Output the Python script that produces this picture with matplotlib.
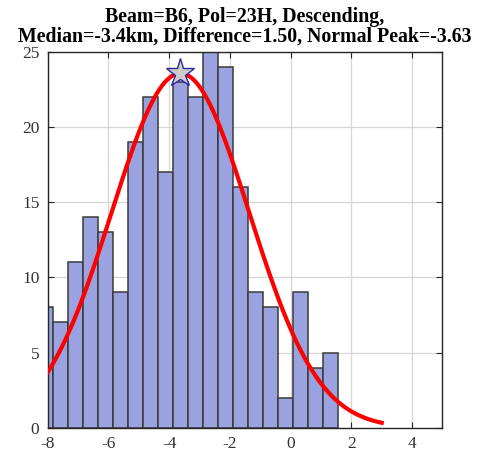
import numpy as np
import matplotlib
matplotlib.use("Agg")
import matplotlib.pyplot as plt

# Data
counts = [8, 7, 11, 14, 13, 9, 19, 22, 17, 23, 22, 25, 24, 16, 9, 8, 2, 9, 4, 5]
first_edge = -8.308
bin_width = 0.4933
fit_mu = -3.63
fit_sigma = 2.27
fit_amp = 23.56
fit_range = (-8.0, 3.0)
xticks = [-8, -6, -4, -2, 0, 2, 4]
yticks = [0, 5, 10, 15, 20, 25]
title = "Beam=B6, Pol=23H, Descending,\nMedian=-3.4km, Difference=1.50, Normal Peak=-3.63"

plt.rcParams['font.family'] = ['Liberation Serif', 'DejaVu Serif']

fig = plt.figure(figsize=(4.82, 4.57), dpi=100)
ax = fig.add_axes([0.099, 0.064, 0.819, 0.823])

edges = first_edge + bin_width * np.arange(len(counts) + 1)
ax.bar(edges[:-1], counts, width=bin_width, align='edge',
       color='#9aa3df', edgecolor='#3a3a3a', linewidth=1.1, zorder=2)

xs = np.linspace(fit_range[0], fit_range[1], 300)
ys = fit_amp * np.exp(-(xs - fit_mu) ** 2 / (2 * fit_sigma ** 2))
ax.plot(xs, ys, color='red', linewidth=3.0, zorder=3)
ax.plot([fit_mu], [fit_amp], marker='*', markersize=21, markerfacecolor='#cccccc',
        markeredgecolor='#2a2aa0', markeredgewidth=1.0, linestyle='none', zorder=4)

ax.set_xlim(-8, 5)
ax.set_ylim(0, 25)
ax.set_xticks(xticks)
ax.set_yticks(yticks)
ax.set_xticklabels([str(t) for t in xticks])
ax.grid(True, color='#d6d6d6', linewidth=0.9, zorder=0)
ax.set_axisbelow(True)
ax.tick_params(direction='in', top=True, right=True, length=4, labelsize=12.5,
               colors='#262626', labelcolor='#333333', width=0.8, pad=6)
for s in ax.spines.values():
    s.set_color('#262626')
    s.set_linewidth(1.0)

ax.set_title(title, fontsize=14.3, fontweight='bold', color='black', pad=7, linespacing=1.0)

fig.savefig('out.png', dpi=100)
